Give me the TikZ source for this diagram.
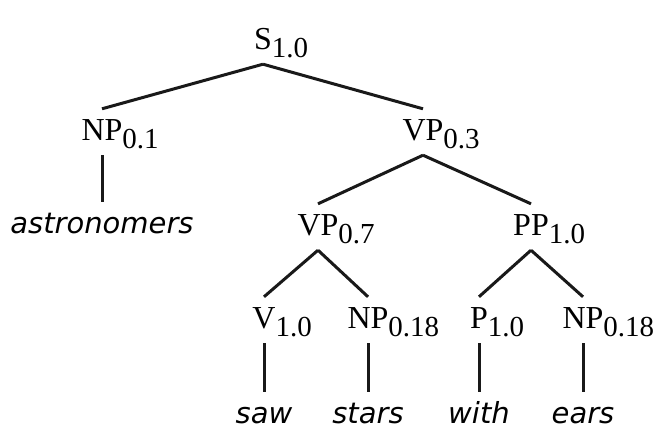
\documentclass[tikz,border=0pt]{standalone}
\usepackage{fontspec}
\usepackage{tikz}
\newfontfamily\catfont{Liberation Serif}
\newfontfamily\leaffont{DejaVu Sans}
\newcommand\cat[2]{#1\rlap{\raisebox{-8pt}{\fontsize{29}{30}\selectfont #2}}}

\begin{document}
\begin{tikzpicture}[x=1pt, y=-1pt,
    cat/.style={anchor=base, font=\catfont\fontsize{32}{36}\selectfont,
      text height=22pt, text depth=6pt, inner xsep=0pt, inner ysep=9pt},
    leaf/.style={cat, font=\leaffont\itshape\fontsize{29}{32}\selectfont},
    branch/.style={line width=3pt, black!90}]
  \useasboundingbox (0,0) rectangle (671,442);
  % categories with probabilities
  \node[cat] (S) at (263,49) {\cat{S}{1.0}};
  \node[cat] (NPa) at (102,140) {\cat{NP}{0.1}};
  \node[cat] (VPa) at (423,140) {\cat{VP}{0.3}};
  \node[cat] (VPb) at (318,235) {\cat{VP}{0.7}};
  \node[cat] (PP) at (531,235) {\cat{PP}{1.0}};
  \node[cat] (V) at (264,328) {\cat{V}{1.0}};
  \node[cat] (NPb) at (368,328) {\cat{NP}{0.18}};
  \node[cat] (P) at (479,328) {\cat{P}{1.0}};
  \node[cat] (NPc) at (583,328) {\cat{NP}{0.18}};

  % words
  \node[leaf] (astro) at (102,233) {astronomers};
  \node[leaf] (saw) at (264,423) {saw};
  \node[leaf] (stars) at (368,423) {stars};
  \node[leaf] (with) at (479,423) {with};
  \node[leaf] (ears) at (583,423) {ears};

  % branches
  \foreach \a/\b in {S/NPa, S/VPa, NPa/astro, VPa/VPb, VPa/PP, VPb/V, VPb/NPb,
      PP/P, PP/NPc, V/saw, NPb/stars, P/with, NPc/ears}
    \draw[branch] (\a.south) -- (\b.north);
\end{tikzpicture}
\end{document}
